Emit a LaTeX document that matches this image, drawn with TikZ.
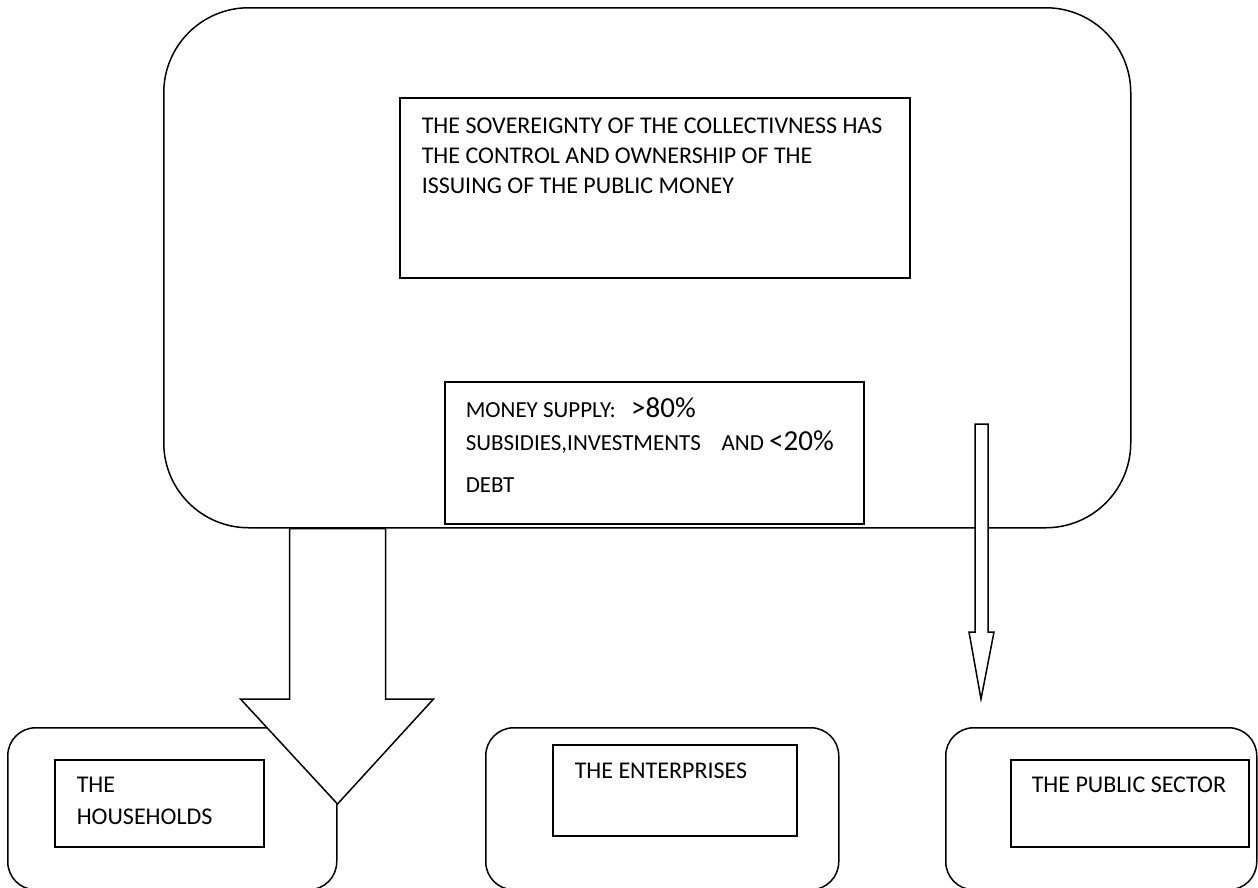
\documentclass[tikz,border=0pt]{standalone}
\usepackage{fontspec}
\setmainfont{Carlito}
\usetikzlibrary{positioning,calc}

\begin{document}
\begin{tikzpicture}[
  x=1pt, y=-1pt,
  line width=1.5pt,
  outer/.style={draw, rounded corners=85pt, inner sep=0pt, anchor=north west},
  sector/.style={draw, rounded corners=28pt, inner sep=0pt, anchor=north west},
  box/.style={draw, inner sep=0pt, anchor=north west},
  txt/.style={inner sep=0pt, align=left, anchor=base west, font=\fontsize{24}{30}\selectfont},
  blockarr/.style={draw, fill=white, line join=miter},
]
  \useasboundingbox (0,0) rectangle (1258,887);
  % top frame (text nodes sit on the baseline of their last line)
  \node[outer, minimum width=967pt, minimum height=520pt] (sov) at (163,7) {};
  \node[box, minimum width=510pt, minimum height=180pt] (claim) at (399,97) {};
  \node[txt] (claimtxt) at (421,193) {THE SOVEREIGNTY OF THE COLLECTIVNESS HAS\\
    THE CONTROL AND OWNERSHIP OF THE\\ ISSUING OF THE PUBLIC MONEY};
  \node[box, minimum width=419pt, minimum height=142pt] (supply) at (444,381) {};
  \node[txt, font=\fontsize{23}{33}\selectfont] (supplytxt) at (465,492)
    {MONEY SUPPLY:\ \ \ {\fontsize{29}{33}\selectfont >80\%}\\
     SUBSIDIES,INVESTMENTS\ \ \ \ AND {\fontsize{29}{33}\selectfont <20\%}\\[9pt]
     DEBT};
  % the three sectors
  \node[sector, minimum width=329pt, minimum height=162pt] (hh) at (7,727) {};
  \node[box, minimum width=209pt, minimum height=87pt] (hhbox) at (54,759) {};
  \node[txt, font=\fontsize{24}{32}\selectfont] (hhtxt) at (76,824) {THE\\ HOUSEHOLDS};
  \node[sector, minimum width=353pt, minimum height=162pt] (ent) at (485,727) {};
  \node[box, minimum width=244pt, minimum height=91pt] (entbox) at (552,744) {};
  \node[txt] (enttxt) at (574,778) {THE ENTERPRISES};
  \node[sector, minimum width=311pt, minimum height=162pt] (ps) at (945,727) {};
  \node[box, minimum width=238pt, minimum height=87pt] (psbox) at (1010,759) {};
  \node[txt] (pstxt) at (1031,792) {THE PUBLIC SECTOR};
  % flows
  \coordinate (hhfrom) at (sov.south -| hh.east);
  \coordinate (hhto) at ($(hh.north east)+(0,77)$);
  \draw[blockarr] ($(hhfrom)+(-48,0)$) -- ($(hhto)+(-48,-105)$) -- ($(hhto)+(-97,-105)$)
    -- (hhto) -- ($(hhto)+(96,-105)$) -- ($(hhto)+(48,-105)$) -- ($(hhfrom)+(48,0)$) -- cycle;
  \coordinate (psfrom) at (981,424);
  \coordinate (psto) at ($(ps.north west)+(36,-28)$);
  \draw[blockarr] ($(psfrom)+(-6,0)$) -- ($(psto)+(-6,-67)$) -- ($(psto)+(-12,-67)$)
    -- (psto) -- ($(psto)+(13,-67)$) -- ($(psto)+(7,-67)$) -- ($(psfrom)+(7,0)$) -- cycle;
\end{tikzpicture}
\end{document}
